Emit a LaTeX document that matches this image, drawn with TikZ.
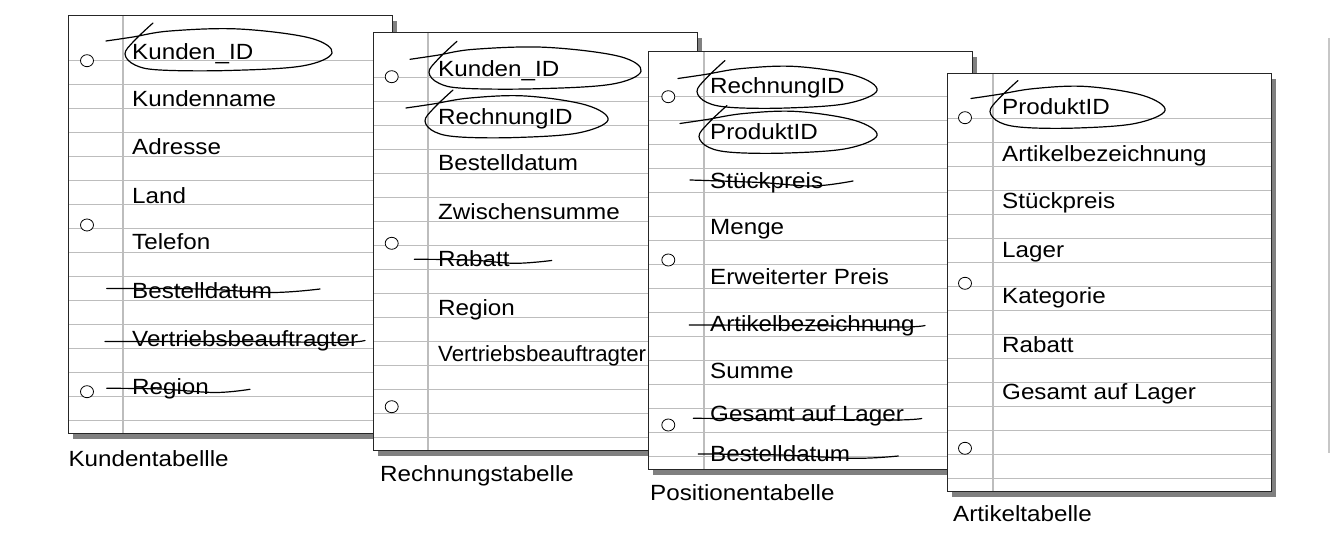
\documentclass[tikz,border=0pt]{standalone}
\usepackage{fontspec}
\usepackage{graphicx}
\setmainfont{Liberation Sans}[FakeStretch=1.1]
\definecolor{shadowc}{gray}{0.5}
\definecolor{rulec}{gray}{0.74}
\definecolor{edgec}{gray}{0.78}
\tikzset{
  ruleline/.style={draw=rulec,line width=1.2pt},
  sheetedge/.style={draw=black!85,line width=0.9pt},
  holec/.style={draw=black,fill=white,line width=0.8pt},
  fld/.style={inner sep=0pt,anchor=base west,font=\fontsize{22}{26}\selectfont},
  captext/.style={inner sep=0pt,anchor=base west,font=\fontsize{22}{26}\selectfont},
  pen/.style={draw=black,line width=1.2pt,line cap=round,line join=round},
}
\newcommand\drawsheet[3]{%
  \fill[shadowc] (#1+5,#2+6) rectangle ++(324,418);
  \fill[white] (#1,#2) rectangle ++(324,418);
  \foreach \k in {0,...,15} \draw[ruleline] (#1,#2+45.5+24*\k) -- ++(324,0);
  \draw[ruleline] (#1+#3,#2) -- ++(0,418);
  \draw[sheetedge] (#1,#2) rectangle ++(324,418);
}
\newcommand\hole[2]{\draw[holec] (#1,#2) ellipse [x radius=6.5pt, y radius=6pt];}
\newcommand\keyloop[3]{%
  \pgfmathsetmacro\lw{#2-#1}%
  \draw[pen] plot[smooth, tension=0.6] coordinates {
    (#1+28,#3-27) (#1+9,#3-9) (#1,#3+4) (#1+10,#3+15) (#1+35,#3+20)
    (#1+0.5*\lw,#3+20.5) (#2-30,#3+16) (#2,#3+3) (#2-22,#3-12)
    (#1+0.55*\lw,#3-21) (#1+45,#3-19) (#1+8,#3-13) (#1-19,#3-9)};
}
\begin{document}
\begin{tikzpicture}[x=1pt,y=-1pt]
\useasboundingbox (0,0) rectangle (1342,540);
\fill[white] (0,0) rectangle (1342,540);

% ---------- Sheet 1: Kundentabellle ----------
\drawsheet{68}{15}{55}
\hole{87}{60.7}\hole{87}{225}\hole{87}{391.7}
\node[fld] (k1) at (132,59.3) {Kunden\_ID};
\node[fld] (k2) at (132,106.7) {Kundenname};
\node[fld] (k3) at (132,154.3) {Adresse};
\node[fld] (k4) at (132,203.3) {Land};
\node[fld] (k5) at (132,250) {Telefon};
\node[fld] (k6) at (132,298.3) {Bestelldatum};
\node[fld] (k7) at (132,346.7) {Vertriebsbeauftragter};
\node[fld] (k8) at (132,394) {Region};
\keyloop{125}{332}{50}
\draw[pen] plot[smooth, tension=0.6] coordinates {(106.7,288.5) (200,289) (272,292.5) (320,289)};
\draw[pen] plot[smooth, tension=0.6] coordinates {(105,341.5) (250,341.5) (340,342.5) (365,340.5)};
\draw[pen] plot[smooth, tension=0.6] coordinates {(106.7,388.3) (160,389) (215,392.5) (250,389.3)};
\node[captext] (c1) at (68.3,466) {Kundentabellle};

% ---------- Sheet 2: Rechnungstabelle ----------
\drawsheet{373}{32}{55}
\hole{391.7}{76.7}\hole{391.7}{243.3}\hole{391.7}{406.7}
\node[fld] (r1) at (438,76.7) {Kunden\_ID};
\node[fld] (r2) at (438,125) {RechnungID};
\node[fld] (r3) at (438,170.7) {Bestelldatum};
\node[fld] (r4) at (438,219.3) {Zwischensumme};
\node[fld] (r5) at (438,266.7) {Rabatt};
\node[fld] (r6) at (438,316) {Region};
\node[fld] (r7) at (438,361.7) {\scalebox{0.92}[1]{Vertriebsbeauftragter}};
\keyloop{429}{641}{68.3}
\keyloop{425}{608}{117}
\draw[pen] plot[smooth, tension=0.6] coordinates {(414.3,259.3) (470,260) (515,263.3) (551.7,260.5)};
\node[captext] (c2) at (380,481.7) {Rechnungstabelle};

% ---------- Sheet 3: Positionentabelle ----------
\drawsheet{648}{51}{56}
\hole{668.3}{96.7}\hole{668.3}{260}\hole{668.3}{425}
\node[fld] (p1) at (710,93.3) {RechnungID};
\node[fld] (p2) at (710,140) {ProduktID};
\node[fld] (p3) at (710,188.3) {Stückpreis};
\node[fld] (p4) at (710,235) {Menge};
\node[fld] (p5) at (710,285) {Erweiterter Preis};
\node[fld] (p6) at (710,331.7) {Artikelbezeichnung};
\node[fld] (p7) at (710,378.3) {Summe};
\node[fld] (p8) at (710,421.7) {Gesamt auf Lager};
\node[fld] (p9) at (710,461.7) {Bestelldatum};
\keyloop{697}{877}{87.5}
\keyloop{699}{877}{132.5}
\draw[pen] plot[smooth, tension=0.6] coordinates {(690,180) (760,182.5) (813,186) (853,181)};
\draw[pen] plot[smooth, tension=0.6] coordinates {(689.3,325) (800,325.5) (900,327) (925,325.5)};
\draw[pen] plot[smooth, tension=0.6] coordinates {(693.3,418.3) (800,419) (895,420) (921.7,418.5)};
\draw[pen] plot[smooth, tension=0.6] coordinates {(698.3,454) (780,455) (855,458.3) (898.3,456)};
\node[captext] (c3) at (650,500) {Positionentabelle};

% ---------- Sheet 4: Artikeltabelle ----------
\drawsheet{947}{73}{46}
\hole{965}{117.7}\hole{965}{283.3}\hole{965}{448.3}
\node[fld] (a1) at (1002,115) {ProduktID};
\node[fld] (a2) at (1002,161.7) {Artikelbezeichnung};
\node[fld] (a3) at (1002,209) {Stückpreis};
\node[fld] (a4) at (1002,257.3) {Lager};
\node[fld] (a5) at (1002,304) {Kategorie};
\node[fld] (a6) at (1002,352.7) {Rabatt};
\node[fld] (a7) at (1002,399.3) {Gesamt auf Lager};
\keyloop{990}{1165}{107.5}
\node[captext] (c4) at (953,521.7) {Artikeltabelle};

% right edge line
\draw[draw=edgec,line width=1.2pt] (1329,38) -- (1329,453);
\end{tikzpicture}
\end{document}
